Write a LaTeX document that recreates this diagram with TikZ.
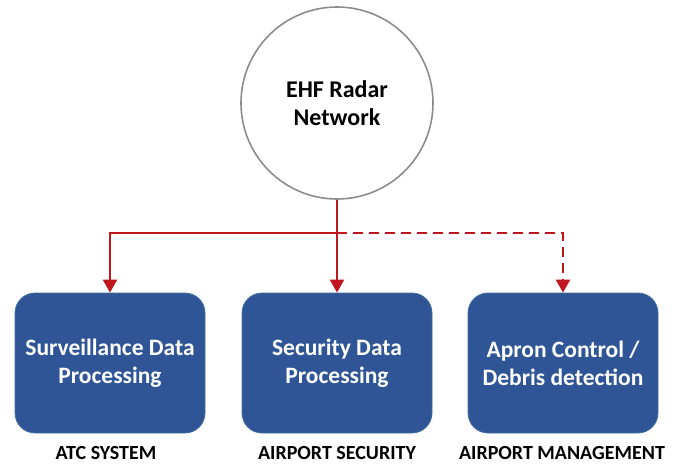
\documentclass[tikz,border=0pt]{standalone}
\usepackage{fontspec}
\setmainfont{Carlito}
\usetikzlibrary{arrows.meta}
\definecolor{boxblue}{HTML}{2F5597}
\definecolor{boxedge}{HTML}{41719C}
\definecolor{linered}{HTML}{C0161E}
\definecolor{ringgray}{HTML}{8C8C8C}
\begin{document}
\begin{tikzpicture}[x=1pt,y=-1pt,
  procbox/.style={draw=boxedge, line width=0.8pt, fill=boxblue, rounded corners=20pt,
    minimum width=190pt, minimum height=140pt, text=white,
    font=\bfseries\fontsize{23.5}{28}\selectfont, align=center},
  hub/.style={circle, draw=ringgray, line width=1.6pt, minimum size=192pt,
    font=\bfseries\fontsize{24}{28}\selectfont, align=center},
  caption/.style={font=\bfseries\fontsize{20}{22}\selectfont},
  link/.style={draw=linered, line width=2.2pt},
  tip/.style={-{Triangle[width=14pt,length=13pt]}},
  dashline/.style={dash pattern=on 10pt off 6pt}
]
\useasboundingbox (0,0) rectangle (681,464);
\node[hub] (net) at (337,103) {EHF Radar\\Network};
\node[procbox] (s) at (110,363) {Surveillance Data\\Processing};
\node[procbox] (m) at (337,363) {Security Data\\Processing};
\node[procbox] (r) at (563,363) {Apron Control /\\Debris detection};
\node[caption] (cs) at (106,453) {ATC SYSTEM};
\node[caption] (cm) at (337,453) {AIRPORT SECURITY};
\node[caption] (cr) at (562,453) {AIRPORT MANAGEMENT};
\coordinate (j) at (337,233);
\coordinate (jl) at (110,233);
\coordinate (jr) at (563,233);
\draw[link] (net.south) -- (j);
\draw[link,tip] (j) -- (jl) -- (s.north);
\draw[link,tip] (j) -- (m.north);
\draw[link,tip,dashline] (j) -- (jr) -- (r.north);
\end{tikzpicture}
\end{document}
